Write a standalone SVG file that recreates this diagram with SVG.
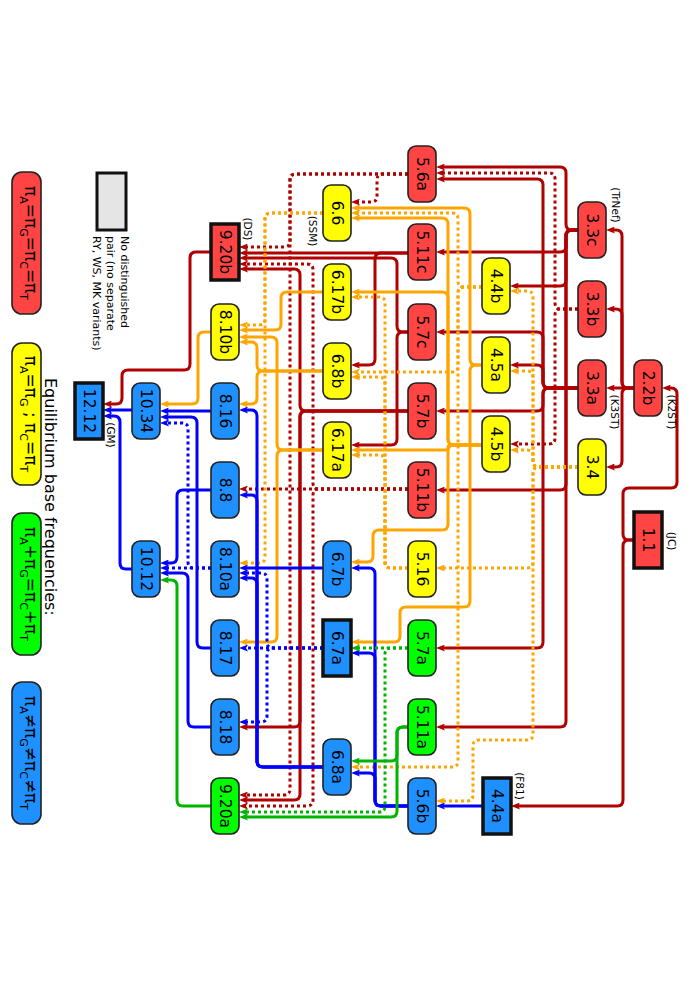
<svg xmlns="http://www.w3.org/2000/svg" width="693" height="981" viewBox="0 0 693 981">
<style>
.e{fill:none;stroke-width:3}
.r{stroke:#b00000;marker-end:url(#ar)}
.o{stroke:#ffa500;marker-end:url(#ao)}
.b{stroke:#0000ff;marker-end:url(#ab)}
.g{stroke:#00b400;marker-end:url(#ag)}
.d{stroke-dasharray:3 3}
.n{stroke:#222;stroke-width:1.6}
.s{stroke:#111;stroke-width:3.5}
.fr{fill:#ff4444}.fy{fill:#ffff00}.fg{fill:#00ff00}.fb{fill:#1e90ff}
.t{font-family:"DejaVu Sans",sans-serif;font-size:15.5px;text-anchor:middle;dominant-baseline:central;fill:#000}
.l{font-family:"DejaVu Sans",sans-serif;font-size:10.5px;text-anchor:middle;dominant-baseline:central;fill:#000}
.lg{font-family:"DejaVu Sans",sans-serif;font-size:17px;text-anchor:middle;fill:#000}
.sm{font-family:"DejaVu Sans",sans-serif;font-size:11px;fill:#000}
</style>
<defs>
<marker id="ar" viewBox="0 0 9 7" refX="3" refY="3.5" markerWidth="9" markerHeight="7" markerUnits="userSpaceOnUse" orient="auto"><path d="M0,0 L9,3.5 L0,7 L2,3.5 z" fill="#b00000"/></marker>
<marker id="ao" viewBox="0 0 9 7" refX="3" refY="3.5" markerWidth="9" markerHeight="7" markerUnits="userSpaceOnUse" orient="auto"><path d="M0,0 L9,3.5 L0,7 L2,3.5 z" fill="#ffa500"/></marker>
<marker id="ab" viewBox="0 0 9 7" refX="3" refY="3.5" markerWidth="9" markerHeight="7" markerUnits="userSpaceOnUse" orient="auto"><path d="M0,0 L9,3.5 L0,7 L2,3.5 z" fill="#0000ff"/></marker>
<marker id="ag" viewBox="0 0 9 7" refX="3" refY="3.5" markerWidth="9" markerHeight="7" markerUnits="userSpaceOnUse" orient="auto"><path d="M0,0 L9,3.5 L0,7 L2,3.5 z" fill="#00b400"/></marker>
</defs>
<rect width="693" height="981" fill="#fff"/>
<g id="connectors">
<path class="e r" d="M634,540 H629 Q623,540 623,534 V494 Q623,488 629,488 H671 Q677,488 677,482 V394 Q677,388 671,388 H668"/>
<path class="e r" d="M634,540 H629 Q623,540 623,546 V800 Q623,806 617,806 H517"/>
<path class="e r" d="M634,388 H612"/>
<path class="e r" d="M634,388 H628 Q622,388 622,382 V236 Q622,230 616,230 H612"/>
<path class="e r" d="M634,388 H628 Q622,388 622,382 V315 Q622,309 616,309 H612"/>
<path class="e r" d="M634,388 H628 Q622,388 622,394 V461 Q622,467 616,467 H612"/>
<path class="e r" d="M578,230 H572 Q566,230 566,224 V173 Q566,167 560,167 H442"/>
<path class="e r" d="M578,230 H572 Q566,230 566,236 V246 Q566,252 560,252 H442"/>
<path class="e r" d="M578,230 H572 Q566,230 566,236 V280 Q566,286 560,286 H516"/>
<path class="e r" d="M578,230 H572 Q566,230 566,236 V484 Q566,490 560,490 H442"/>
<path class="e r" d="M578,230 H572 Q566,230 566,236 V721 Q566,727 560,727 H442"/>
<path class="e r" d="M578,388 H549 Q543,388 543,382 V185 Q543,179 537,179 H442"/>
<path class="e r" d="M578,388 H549 Q543,388 543,382 V338 Q543,332 537,332 H442"/>
<path class="e r" d="M578,388 H549 Q543,388 543,382 V371 Q543,365 537,365 H516"/>
<path class="e r" d="M578,388 H549 Q543,388 543,394 V405 Q543,411 537,411 H442"/>
<path class="e r" d="M578,388 H549 Q543,388 543,394 V642 Q543,648 537,648 H442"/>
<path class="e r" d="M408,253 H245"/>
<path class="e r" d="M408,253 H381 Q375,253 375,259 V359 Q375,365 369,365 H357"/>
<path class="e r" d="M408,332 H403 Q397,332 397,326 V264 Q397,258 391,258 H245"/>
<path class="e r" d="M408,332 H403 Q397,332 397,338 V439 Q397,445 391,445 H357"/>
<path class="e r" d="M408,411 H306 Q300,411 300,405 V275 Q300,269 294,269 H245"/>
<path class="e r" d="M408,411 H306 Q300,411 300,417 V721 Q300,727 294,727 H245"/>
<path class="e r" d="M408,411 H306 Q300,411 300,417 V794 Q300,800 294,800 H245"/>
<path class="e r" d="M211,252 H196 Q190,252 190,258 V364 Q190,370 184,370 H128 Q122,370 122,376 V398 Q122,404 116,404 H109"/>
<path class="e r d" d="M578,309 H561 Q555,309 555,303 V179 Q555,173 549,173 H442"/>
<path class="e r d" d="M578,309 H561 Q555,309 555,315 V438 Q555,444 549,444 H516"/>
<path class="e r d" d="M408,174 H383 Q377,174 377,180 V196 Q377,202 371,202 H357"/>
<path class="e r d" d="M408,174 H296 Q290,174 290,180 V241 Q290,247 284,247 H245"/>
<path class="e r d" d="M408,174 H296 Q290,174 290,180 V789 Q290,795 284,795 H245"/>
<path class="e r d" d="M408,489 H245"/>
<path class="e r d" d="M408,489 H319 Q313,489 313,483 V270 Q313,264 307,264 H245"/>
<path class="e r d" d="M408,489 H319 Q313,489 313,495 V800 Q313,806 307,806 H245"/>
<path class="e o d" d="M578,467 H539 Q533,467 533,461 V297 Q533,291 527,291 H516"/>
<path class="e o d" d="M578,467 H539 Q533,467 533,461 V377 Q533,371 527,371 H516"/>
<path class="e o d" d="M578,467 H539 Q533,467 533,461 V456 Q533,450 527,450 H516"/>
<path class="e o d" d="M578,467 H539 Q533,467 533,473 V562 Q533,568 527,568 H442"/>
<path class="e o d" d="M578,467 H539 Q533,467 533,473 V734 Q533,740 527,740 H479 Q473,740 473,746 V795 Q473,801 467,801 H442"/>
<path class="e o d" d="M482,287 H464 Q458,287 458,281 V219 Q458,213 452,213 H357"/>
<path class="e o d" d="M482,287 H464 Q458,287 458,293 V366 Q458,372 452,372 H357"/>
<path class="e o d" d="M482,287 H464 Q458,287 458,293 V761 Q458,767 452,767 H357"/>
<path class="e o d" d="M408,568 H391 Q385,568 385,562 V303 Q385,297 379,297 H357"/>
<path class="e o d" d="M408,568 H391 Q385,568 385,562 V383 Q385,377 379,377 H357"/>
<path class="e o d" d="M408,568 H391 Q385,568 385,562 V461 Q385,455 379,455 H357"/>
<path class="e o d" d="M323,213 H271 Q265,213 265,219 V319 Q265,325 259,325 H245"/>
<path class="e o d" d="M323,213 H271 Q265,213 265,219 V557 Q265,563 259,563 H245"/>
<path class="e o" d="M482,365 H476 Q470,365 470,359 V214 Q470,208 464,208 H357"/>
<path class="e o" d="M482,365 H476 Q470,365 470,371 V601 Q470,607 464,607 H406 Q400,607 400,613 V636 Q400,642 394,642 H357"/>
<path class="e o" d="M482,445 H454 Q448,445 448,439 V224 Q448,218 442,218 H357"/>
<path class="e o" d="M482,445 H454 Q448,445 448,439 V298 Q448,292 442,292 H357"/>
<path class="e o" d="M482,445 H451 Q448,445 448,447.5 Q448,450 445,450 H357"/>
<path class="e o" d="M482,445 H454 Q448,445 448,451 V524 Q448,530 442,530 H379 Q373,530 373,536 V556 Q373,562 367,562 H357"/>
<path class="e o" d="M323,292 H287 Q281,292 281,298 V324 Q281,330 275,330 H245"/>
<path class="e o" d="M323,450 H283 Q277,450 277,444 V343 Q277,337 271,337 H245"/>
<path class="e o" d="M323,450 H283 Q277,450 277,456 V636 Q277,642 271,642 H245"/>
<path class="e o" d="M323,371 H263 Q257,371 257,365 V348 Q257,342 251,342 H245"/>
<path class="e o" d="M323,371 H263 Q257,371 257,377 V398 Q257,404 251,404 H245"/>
<path class="e o" d="M211,332 H204 Q198,332 198,338 V398 Q198,404 192,404 H166"/>
<path class="e b" d="M483,806 H442"/>
<path class="e b" d="M408,806 H381 Q375,806 375,800 V574 Q375,568 369,568 H357"/>
<path class="e b" d="M408,806 H381 Q375,806 375,800 V659 Q375,653 369,653 H357"/>
<path class="e b" d="M408,806 H381 Q375,806 375,800 V779 Q375,773 369,773 H357"/>
<path class="e b" d="M323,568 H245"/>
<path class="e b" d="M323,767 H263 Q257,767 257,761 V416 Q257,410 251,410 H245"/>
<path class="e b" d="M323,767 H263 Q257,767 257,761 V501 Q257,495 251,495 H245"/>
<path class="e b" d="M323,767 H263 Q257,767 257,761 V584 Q257,578 251,578 H245"/>
<path class="e b" d="M211,411 H166"/>
<path class="e b" d="M211,648 H203 Q197,648 197,642 V423 Q197,417 191,417 H166"/>
<path class="e b" d="M211,490 H183 Q177,490 177,496 V557 Q177,563 171,563 H166"/>
<path class="e b" d="M211,727 H194 Q188,727 188,721 V579 Q188,573 182,573 H166"/>
<path class="e b" d="M132,410 H109"/>
<path class="e b" d="M132,569 H126 Q120,569 120,563 V422 Q120,416 114,416 H109"/>
<path class="e b d" d="M323,648 H245"/>
<path class="e b d" d="M323,648 H273 Q267,648 267,642 V579 Q267,573 261,573 H245"/>
<path class="e b d" d="M323,648 H273 Q267,648 267,654 V716 Q267,722 261,722 H245"/>
<path class="e b d" d="M211,568 H166"/>
<path class="e b d" d="M211,568 H194 Q188,568 188,562 V429 Q188,423 182,423 H166"/>
<path class="e g d" d="M408,648 H357"/>
<path class="e g d" d="M408,648 H391 Q385,648 385,654 V806 Q385,812 379,812 H245"/>
<path class="e g" d="M408,727 H403 Q397,727 397,733 V755 Q397,761 391,761 H357"/>
<path class="e g" d="M408,727 H403 Q397,727 397,733 V811 Q397,817 391,817 H245"/>
<path class="e g" d="M211,806 H183 Q177,806 177,800 V586 Q177,580 171,580 H166"/>
</g>
<g id="n1_1"><rect class="s fr" x="634" y="512" width="28" height="56"/><text class="t" x="648" y="540" transform="rotate(90 648 540)">1.1</text></g>
<g id="n2_2b"><rect class="n fr" x="634" y="360" width="28" height="56" rx="8"/><text class="t" x="648" y="388" transform="rotate(90 648 388)">2.2b</text></g>
<g id="n3_3c"><rect class="n fr" x="578" y="202" width="28" height="56" rx="8"/><text class="t" x="592" y="230" transform="rotate(90 592 230)">3.3c</text></g>
<g id="n3_3b"><rect class="n fr" x="578" y="281" width="28" height="56" rx="8"/><text class="t" x="592" y="309" transform="rotate(90 592 309)">3.3b</text></g>
<g id="n3_3a"><rect class="n fr" x="578" y="360" width="28" height="56" rx="8"/><text class="t" x="592" y="388" transform="rotate(90 592 388)">3.3a</text></g>
<g id="n3_4"><rect class="n fy" x="578" y="439" width="28" height="56" rx="8"/><text class="t" x="592" y="467" transform="rotate(90 592 467)">3.4</text></g>
<g id="n4_4b"><rect class="n fy" x="482" y="258" width="28" height="56" rx="8"/><text class="t" x="496" y="286" transform="rotate(90 496 286)">4.4b</text></g>
<g id="n4_5a"><rect class="n fy" x="482" y="337" width="28" height="56" rx="8"/><text class="t" x="496" y="365" transform="rotate(90 496 365)">4.5a</text></g>
<g id="n4_5b"><rect class="n fy" x="482" y="416" width="28" height="56" rx="8"/><text class="t" x="496" y="444" transform="rotate(90 496 444)">4.5b</text></g>
<g id="n4_4a"><rect class="s fb" x="483" y="778" width="28" height="56"/><text class="t" x="497" y="806" transform="rotate(90 497 806)">4.4a</text></g>
<g id="n5_6a"><rect class="n fr" x="408" y="146" width="28" height="56" rx="8"/><text class="t" x="422" y="174" transform="rotate(90 422 174)">5.6a</text></g>
<g id="n5_11c"><rect class="n fr" x="408" y="224" width="28" height="56" rx="8"/><text class="t" x="422" y="252" transform="rotate(90 422 252)">5.11c</text></g>
<g id="n5_7c"><rect class="n fr" x="408" y="304" width="28" height="56" rx="8"/><text class="t" x="422" y="332" transform="rotate(90 422 332)">5.7c</text></g>
<g id="n5_7b"><rect class="n fr" x="408" y="383" width="28" height="56" rx="8"/><text class="t" x="422" y="411" transform="rotate(90 422 411)">5.7b</text></g>
<g id="n5_11b"><rect class="n fr" x="408" y="462" width="28" height="56" rx="8"/><text class="t" x="422" y="490" transform="rotate(90 422 490)">5.11b</text></g>
<g id="n5_16"><rect class="n fy" x="408" y="541" width="28" height="56" rx="8"/><text class="t" x="422" y="569" transform="rotate(90 422 569)">5.16</text></g>
<g id="n5_7a"><rect class="n fg" x="408" y="620" width="28" height="56" rx="8"/><text class="t" x="422" y="648" transform="rotate(90 422 648)">5.7a</text></g>
<g id="n5_11a"><rect class="n fg" x="408" y="699" width="28" height="56" rx="8"/><text class="t" x="422" y="727" transform="rotate(90 422 727)">5.11a</text></g>
<g id="n5_6b"><rect class="n fb" x="408" y="778" width="28" height="56" rx="8"/><text class="t" x="422" y="806" transform="rotate(90 422 806)">5.6b</text></g>
<g id="n6_6"><rect class="n fy" x="323" y="185" width="28" height="56" rx="8"/><text class="t" x="337" y="213" transform="rotate(90 337 213)">6.6</text></g>
<g id="n6_17b"><rect class="n fy" x="323" y="264" width="28" height="56" rx="8"/><text class="t" x="337" y="292" transform="rotate(90 337 292)">6.17b</text></g>
<g id="n6_8b"><rect class="n fy" x="323" y="343" width="28" height="56" rx="8"/><text class="t" x="337" y="371" transform="rotate(90 337 371)">6.8b</text></g>
<g id="n6_17a"><rect class="n fy" x="323" y="422" width="28" height="56" rx="8"/><text class="t" x="337" y="450" transform="rotate(90 337 450)">6.17a</text></g>
<g id="n6_7b"><rect class="n fb" x="323" y="541" width="28" height="56" rx="8"/><text class="t" x="337" y="569" transform="rotate(90 337 569)">6.7b</text></g>
<g id="n6_7a"><rect class="s fb" x="323" y="620" width="28" height="56"/><text class="t" x="337" y="648" transform="rotate(90 337 648)">6.7a</text></g>
<g id="n6_8a"><rect class="n fb" x="323" y="739" width="28" height="56" rx="8"/><text class="t" x="337" y="767" transform="rotate(90 337 767)">6.8a</text></g>
<g id="n9_20b"><rect class="s fr" x="211" y="224" width="28" height="56"/><text class="t" x="225" y="252" transform="rotate(90 225 252)">9.20b</text></g>
<g id="n8_10b"><rect class="n fy" x="211" y="304" width="28" height="56" rx="8"/><text class="t" x="225" y="332" transform="rotate(90 225 332)">8.10b</text></g>
<g id="n8_16"><rect class="n fb" x="211" y="383" width="28" height="56" rx="8"/><text class="t" x="225" y="411" transform="rotate(90 225 411)">8.16</text></g>
<g id="n8_8"><rect class="n fb" x="211" y="462" width="28" height="56" rx="8"/><text class="t" x="225" y="490" transform="rotate(90 225 490)">8.8</text></g>
<g id="n8_10a"><rect class="n fb" x="211" y="541" width="28" height="56" rx="8"/><text class="t" x="225" y="569" transform="rotate(90 225 569)">8.10a</text></g>
<g id="n8_17"><rect class="n fb" x="211" y="620" width="28" height="56" rx="8"/><text class="t" x="225" y="648" transform="rotate(90 225 648)">8.17</text></g>
<g id="n8_18"><rect class="n fb" x="211" y="699" width="28" height="56" rx="8"/><text class="t" x="225" y="727" transform="rotate(90 225 727)">8.18</text></g>
<g id="n9_20a"><rect class="n fg" x="211" y="778" width="28" height="56" rx="8"/><text class="t" x="225" y="806" transform="rotate(90 225 806)">9.20a</text></g>
<g id="n10_34"><rect class="n fb" x="132" y="383" width="28" height="56" rx="8"/><text class="t" x="146" y="411" transform="rotate(90 146 411)">10.34</text></g>
<g id="n10_12"><rect class="n fb" x="132" y="541" width="28" height="56" rx="8"/><text class="t" x="146" y="569" transform="rotate(90 146 569)">10.12</text></g>
<g id="n12_12"><rect class="s fb" x="75" y="383" width="28" height="56"/><text class="t" x="89" y="411" transform="rotate(90 89 411)">12.12</text></g>
<g id="labels">
<text class="l" x="672" y="541" transform="rotate(90 672 541)">(JC)</text>
<text class="l" x="672" y="412" transform="rotate(90 672 412)">(K2ST)</text>
<text class="l" x="615" y="412" transform="rotate(90 615 412)">(K3ST)</text>
<text class="l" x="616" y="205" transform="rotate(90 616 205)">(TrNef)</text>
<text class="l" x="520" y="786" transform="rotate(90 520 786)">(F81)</text>
<text class="l" x="248" y="229" transform="rotate(90 248 229)">(DS)</text>
<text class="l" x="313" y="231" transform="rotate(90 313 231)">(SSM)</text>
<text class="l" x="111" y="435" transform="rotate(90 111 435)">(GM)</text>
</g>
<g id="legend">
<rect x="97" y="173" width="29" height="57" fill="#e5e5e5" stroke="#111" stroke-width="3"/>
<text class="sm" x="121" y="236" transform="rotate(90 121 236)">No distinguished</text>
<text class="sm" x="107" y="236" transform="rotate(90 107 236)">pair (no separate</text>
<text class="sm" x="93" y="236" transform="rotate(90 93 236)">RY, WS, MK variants)</text>
<text x="45" y="378" transform="rotate(90 45 378)" font-family="DejaVu Sans, sans-serif" font-size="16">Equilibrium base frequencies:</text>
<rect class="n fr" x="12" y="172" width="29" height="142" rx="10"/>
<text class="lg" x="25" y="243" transform="rotate(90 25 243)">π<tspan font-size="11" dy="5">A</tspan><tspan dy="-5">=π</tspan><tspan font-size="11" dy="5">G</tspan><tspan dy="-5">=π</tspan><tspan font-size="11" dy="5">C</tspan><tspan dy="-5">=π</tspan><tspan font-size="11" dy="5">T</tspan></text>
<rect class="n fy" x="12" y="343" width="29" height="142" rx="10"/>
<text class="lg" x="25" y="414" transform="rotate(90 25 414)">π<tspan font-size="11" dy="5">A</tspan><tspan dy="-5">=π</tspan><tspan font-size="11" dy="5">G</tspan><tspan dy="-5"> ; π</tspan><tspan font-size="11" dy="5">C</tspan><tspan dy="-5">=π</tspan><tspan font-size="11" dy="5">T</tspan></text>
<rect class="n fg" x="12" y="513" width="29" height="142" rx="10"/>
<text class="lg" x="25" y="584" transform="rotate(90 25 584)">π<tspan font-size="11" dy="5">A</tspan><tspan dy="-5">+π</tspan><tspan font-size="11" dy="5">G</tspan><tspan dy="-5">=π</tspan><tspan font-size="11" dy="5">C</tspan><tspan dy="-5">+π</tspan><tspan font-size="11" dy="5">T</tspan></text>
<rect class="n fb" x="12" y="682" width="29" height="142" rx="10"/>
<text class="lg" x="25" y="753" transform="rotate(90 25 753)">π<tspan font-size="11" dy="5">A</tspan><tspan dy="-5">≠π</tspan><tspan font-size="11" dy="5">G</tspan><tspan dy="-5">≠π</tspan><tspan font-size="11" dy="5">C</tspan><tspan dy="-5">≠π</tspan><tspan font-size="11" dy="5">T</tspan></text>
</g>
</svg>
